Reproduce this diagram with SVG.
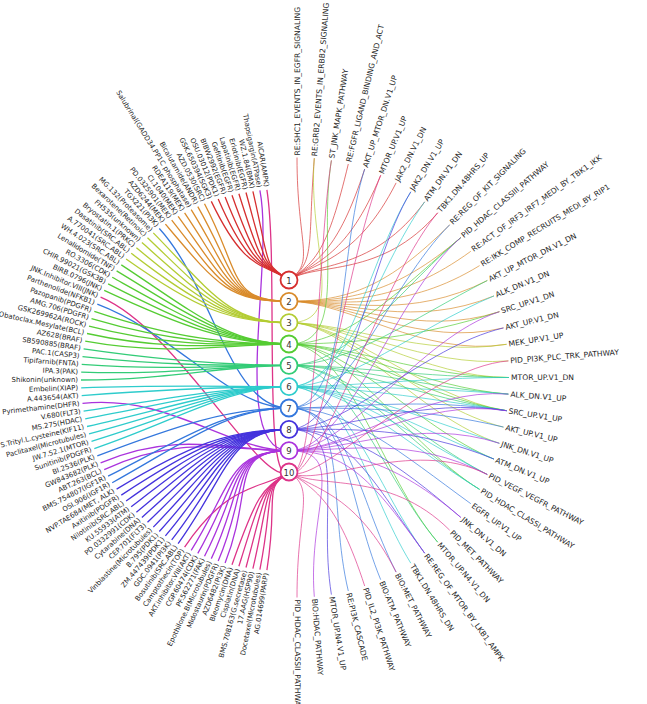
<svg xmlns="http://www.w3.org/2000/svg" width="647" height="704" viewBox="0 0 647 704">
<style>
text{font-family:"DejaVu Sans",sans-serif;font-size:7.6px;fill:#262626;dominant-baseline:central}
text.L{text-anchor:end;font-size:6.95px}
.a{fill:none;stroke-width:1.3}
.b{fill:none;stroke-width:0.8;opacity:0.85}
.s1{stroke:#d62f2f}.s2{stroke:#d98b2b}.s3{stroke:#b3cc33}.s4{stroke:#55cc33}.s5{stroke:#33cc77}
.s6{stroke:#2ecccc}.s7{stroke:#3377dd}.s8{stroke:#4433dd}.s9{stroke:#aa33dd}.s10{stroke:#dd3388}
.n circle{fill:#fff;stroke-width:1.8}
.n text{font-size:8.5px;text-anchor:middle;fill:#333}
</style>
<rect width="647" height="704" fill="#fff"/>
<g id="connectors">
<g id="left-edges">
<path class="a s10" d="M266.9 189.9C278.9 265.9 262 490 289 472"/>
<path class="a s9" d="M259.9 190.4C274.7 266.2 229 450.7 289 450.7"/>
<path class="a s1" d="M252.9 191.4C270.5 266.8 262 262 289 280"/>
<path class="a s1" d="M246 192.5C266.4 267.5 262 262 289 280"/>
<path class="a s1" d="M238.9 193.8C262.1 268.3 262 262 289 280"/>
<path class="a s1" d="M232 195.3C258 269.2 262 262 289 280"/>
<path class="a s1" d="M225.1 197C253.9 270.2 262 262 289 280"/>
<path class="a s1" d="M218.2 199.1C249.7 271.5 262 262 289 280"/>
<path class="a s1" d="M211.3 201.4C245.6 272.8 262 262 289 280"/>
<path class="a s2" d="M204.5 203.8C241.5 274.3 229 301.3 289 301.3"/>
<path class="a s2" d="M197.8 206.6C237.5 276 229 301.3 289 301.3"/>
<path class="a s2" d="M191.2 209.6C233.5 277.8 229 301.3 289 301.3"/>
<path class="a s2" d="M184.6 212.9C229.6 279.7 229 301.3 289 301.3"/>
<path class="a s2" d="M178.1 216.4C225.7 281.8 229 301.3 289 301.3"/>
<path class="a s2" d="M171.7 220.1C221.8 284.1 229 301.3 289 301.3"/>
<path class="a s2" d="M165.4 224.1C218 286.5 229 301.3 289 301.3"/>
<path class="a s7" d="M159.3 228.5C214.4 289.1 229 408 289 408"/>
<path class="a s3" d="M153.3 232.9C210.8 291.7 229 322.7 289 322.7"/>
<path class="a s3" d="M147.5 237.7C207.3 294.6 229 322.7 289 322.7"/>
<path class="a s3" d="M141.9 242.6C203.9 297.6 229 322.7 289 322.7"/>
<path class="a s3" d="M136.4 247.8C200.6 300.7 229 322.7 289 322.7"/>
<path class="a s3" d="M131.2 253.3C197.5 304 229 322.7 289 322.7"/>
<path class="a s3" d="M126.1 259C194.5 307.4 229 322.7 289 322.7"/>
<path class="a s4" d="M121.3 264.9C191.6 310.9 229 344 289 344"/>
<path class="a s4" d="M116.6 270.9C188.8 314.5 229 344 289 344"/>
<path class="a s4" d="M112.2 277.3C186.1 318.4 229 344 289 344"/>
<path class="a s4" d="M108.1 283.8C183.7 322.3 229 344 289 344"/>
<path class="a s4" d="M104.2 290.4C181.3 326.2 229 344 289 344"/>
<path class="a s10" d="M100.6 297.2C179.2 330.3 262 490 289 472"/>
<path class="a s7" d="M97.3 304.2C177.2 334.5 229 408 289 408"/>
<path class="a s4" d="M94.3 311.4C175.4 338.8 229 344 289 344"/>
<path class="a s4" d="M91.5 318.7C173.7 343.2 229 344 289 344"/>
<path class="a s4" d="M89 326.1C172.2 347.7 229 344 289 344"/>
<path class="a s4" d="M87 333.5C171 352.1 229 344 289 344"/>
<path class="a s4" d="M85.2 341.2C169.9 356.7 229 344 289 344"/>
<path class="a s5" d="M83.6 348.9C169 361.3 229 365.3 289 365.3"/>
<path class="a s5" d="M82.5 356.6C168.3 366 229 365.3 289 365.3"/>
<path class="a s5" d="M81.7 364.4C167.8 370.6 229 365.3 289 365.3"/>
<path class="a s5" d="M81.2 372.1C167.5 375.3 229 365.3 289 365.3"/>
<path class="a s5" d="M81 380C167.4 380 229 365.3 289 365.3"/>
<path class="a s6" d="M81.2 387.9C167.5 384.7 229 386.7 289 386.7"/>
<path class="a s6" d="M81.7 395.6C167.8 389.4 229 386.7 289 386.7"/>
<path class="a s9" d="M82.5 403.4C168.3 394 229 450.7 289 450.7"/>
<path class="a s6" d="M83.6 411.1C169 398.7 229 386.7 289 386.7"/>
<path class="a s6" d="M85.2 418.8C169.9 403.3 229 386.7 289 386.7"/>
<path class="a s6" d="M87 426.5C171 407.9 229 386.7 289 386.7"/>
<path class="a s6" d="M89 433.9C172.2 412.3 229 386.7 289 386.7"/>
<path class="a s6" d="M91.5 441.3C173.7 416.8 229 386.7 289 386.7"/>
<path class="a s6" d="M94.3 448.6C175.4 421.2 229 386.7 289 386.7"/>
<path class="a s7" d="M97.3 455.8C177.2 425.5 229 408 289 408"/>
<path class="a s9" d="M100.6 462.8C179.2 429.7 229 450.7 289 450.7"/>
<path class="a s9" d="M104.2 469.6C181.3 433.8 229 450.7 289 450.7"/>
<path class="a s7" d="M108.1 476.2C183.7 437.7 229 408 289 408"/>
<path class="a s7" d="M112.2 482.7C186.1 441.6 229 408 289 408"/>
<path class="a s8" d="M116.6 489.1C188.8 445.5 229 429.3 289 429.3"/>
<path class="a s8" d="M121.3 495.1C191.6 449.1 229 429.3 289 429.3"/>
<path class="a s8" d="M126.1 501C194.5 452.6 229 429.3 289 429.3"/>
<path class="a s8" d="M131.2 506.7C197.5 456 229 429.3 289 429.3"/>
<path class="a s8" d="M136.4 512.2C200.6 459.3 229 429.3 289 429.3"/>
<path class="a s8" d="M141.9 517.4C203.9 462.4 229 429.3 289 429.3"/>
<path class="a s8" d="M147.5 522.3C207.3 465.4 229 429.3 289 429.3"/>
<path class="a s8" d="M153.3 527.1C210.8 468.3 229 429.3 289 429.3"/>
<path class="a s8" d="M159.3 531.5C214.4 470.9 229 429.3 289 429.3"/>
<path class="a s8" d="M165.4 535.9C218 473.5 229 429.3 289 429.3"/>
<path class="a s8" d="M171.7 539.9C221.8 475.9 229 429.3 289 429.3"/>
<path class="a s8" d="M178.1 543.6C225.7 478.2 229 429.3 289 429.3"/>
<path class="a s10" d="M184.6 547.1C229.6 480.3 262 490 289 472"/>
<path class="a s9" d="M191.2 550.4C233.5 482.2 229 450.7 289 450.7"/>
<path class="a s9" d="M197.8 553.4C237.5 484 229 450.7 289 450.7"/>
<path class="a s9" d="M204.5 556.2C241.5 485.7 229 450.7 289 450.7"/>
<path class="a s9" d="M211.3 558.6C245.6 487.2 229 450.7 289 450.7"/>
<path class="a s9" d="M218.2 560.9C249.7 488.5 229 450.7 289 450.7"/>
<path class="a s9" d="M225.1 563C253.9 489.8 229 450.7 289 450.7"/>
<path class="a s10" d="M232 564.7C258 490.8 262 490 289 472"/>
<path class="a s10" d="M238.9 566.2C262.1 491.7 262 490 289 472"/>
<path class="a s10" d="M246 567.5C266.4 492.5 262 490 289 472"/>
<path class="a s10" d="M252.9 568.6C270.5 493.2 262 490 289 472"/>
<path class="a s10" d="M259.9 569.6C274.7 493.8 262 490 289 472"/>
<path class="a s10" d="M266.9 570.1C278.9 494.1 262 490 289 472"/>
</g>
<g id="right-edges">
<path class="b s1" d="M289 280C316 262 297 245.5 297 157.5"/>
<path class="b s1" d="M289 280C316 262 307.4 245.9 314.3 158.2"/>
<path class="b s1" d="M289 280C316 262 327.8 249.4 348.3 164"/>
<path class="b s1" d="M289 280C316 262 337.6 252.4 364.7 169"/>
<path class="b s1" d="M289 280C316 262 347.2 256.2 380.7 175.3"/>
<path class="b s1" d="M289 280C316 262 356.5 260.7 396.1 182.9"/>
<path class="b s1" d="M289 280C316 262 373.6 272.1 424.7 201.8"/>
<path class="b s1" d="M289 280C316 262 381.4 278.7 437.7 212.8"/>
<path class="b s2" d="M289 301.3C349 301.3 388.6 285.9 449.7 224.8"/>
<path class="b s2" d="M289 301.3C349 301.3 395.3 293.6 460.8 237.6"/>
<path class="b s2" d="M289 301.3C349 301.3 401.3 301.8 470.8 251.3"/>
<path class="b s2" d="M289 301.3C349 301.3 406.6 310.4 479.6 265.6"/>
<path class="b s2" d="M289 301.3C349 301.3 411.2 319.3 487.3 280.5"/>
<path class="b s2" d="M289 301.3C349 301.3 415.2 328.5 494 295.9"/>
<path class="b s2" d="M289 301.3C349 301.3 418.4 338 499.4 311.7"/>
<path class="b s2" d="M289 301.3C349 301.3 420.9 347.7 503.5 327.9"/>
<path class="b s2" d="M289 301.3C349 301.3 422.8 357.6 506.6 344.3"/>
<path class="b s3" d="M289 322.7C349 322.7 307.4 245.9 314.3 158.2"/>
<path class="b s3" d="M289 322.7C349 322.7 422.8 357.6 506.6 344.3"/>
<path class="b s3" d="M289 322.7C349 322.7 423.8 367.5 508.4 360.9"/>
<path class="b s3" d="M289 322.7C349 322.7 424.2 377.5 509 377.5"/>
<path class="b s3" d="M289 322.7C349 322.7 422.8 397.4 506.6 410.7"/>
<path class="b s3" d="M289 322.7C349 322.7 420.9 407.3 503.5 427.1"/>
<path class="b s3" d="M289 322.7C349 322.7 418.4 417 499.4 443.3"/>
<path class="b s4" d="M289 344C349 344 317.6 247.2 331.4 160.4"/>
<path class="b s4" d="M289 344C349 344 395.3 293.6 460.8 237.6"/>
<path class="b s4" d="M289 344C349 344 418.4 338 499.4 311.7"/>
<path class="b s4" d="M289 344C349 344 424.2 377.5 509 377.5"/>
<path class="b s4" d="M289 344C349 344 423.8 387.5 508.4 394.1"/>
<path class="b s4" d="M289 344C349 344 422.8 397.4 506.6 410.7"/>
<path class="b s4" d="M289 344C349 344 415.2 426.5 494 459.1"/>
<path class="b s4" d="M289 344C349 344 406.6 444.6 479.6 489.4"/>
<path class="b s4" d="M289 344C349 344 381.4 476.3 437.7 542.2"/>
<path class="b s5" d="M289 365.3C349 365.3 395.3 293.6 460.8 237.6"/>
<path class="b s5" d="M289 365.3C349 365.3 411.2 319.3 487.3 280.5"/>
<path class="b s5" d="M289 365.3C349 365.3 424.2 377.5 509 377.5"/>
<path class="b s5" d="M289 365.3C349 365.3 423.8 387.5 508.4 394.1"/>
<path class="b s5" d="M289 365.3C349 365.3 422.8 397.4 506.6 410.7"/>
<path class="b s5" d="M289 365.3C349 365.3 411.2 435.7 487.3 474.5"/>
<path class="b s5" d="M289 365.3C349 365.3 406.6 444.6 479.6 489.4"/>
<path class="b s5" d="M289 365.3C349 365.3 381.4 476.3 437.7 542.2"/>
<path class="b s6" d="M289 386.7C349 386.7 365.3 266.1 410.8 191.8"/>
<path class="b s6" d="M289 386.7C349 386.7 373.6 272.1 424.7 201.8"/>
<path class="b s6" d="M289 386.7C349 386.7 415.2 328.5 494 295.9"/>
<path class="b s6" d="M289 386.7C349 386.7 424.2 377.5 509 377.5"/>
<path class="b s6" d="M289 386.7C349 386.7 423.8 387.5 508.4 394.1"/>
<path class="b s6" d="M289 386.7C349 386.7 422.8 397.4 506.6 410.7"/>
<path class="b s6" d="M289 386.7C349 386.7 418.4 417 499.4 443.3"/>
<path class="b s6" d="M289 386.7C349 386.7 415.2 426.5 494 459.1"/>
<path class="b s6" d="M289 386.7C349 386.7 411.2 435.7 487.3 474.5"/>
<path class="b s6" d="M289 386.7C349 386.7 406.6 444.6 479.6 489.4"/>
<path class="b s6" d="M289 386.7C349 386.7 373.6 482.9 424.7 553.2"/>
<path class="b s6" d="M289 386.7C349 386.7 365.3 488.9 410.8 563.2"/>
<path class="b s7" d="M289 408C349 408 337.6 252.4 364.7 169"/>
<path class="b s7" d="M289 408C349 408 388.6 285.9 449.7 224.8"/>
<path class="b s7" d="M289 408C349 408 422.8 397.4 506.6 410.7"/>
<path class="b s7" d="M289 408C349 408 420.9 407.3 503.5 427.1"/>
<path class="b s7" d="M289 408C349 408 401.3 453.2 470.8 503.7"/>
<path class="b s7" d="M289 408C349 408 356.5 494.3 396.1 572.1"/>
<path class="b s7" d="M289 408C349 408 347.2 498.8 380.7 579.7"/>
<path class="b s7" d="M289 408C349 408 327.8 505.6 348.3 591"/>
<path class="b s8" d="M289 429.3C349 429.3 365.3 266.1 410.8 191.8"/>
<path class="b s8" d="M289 429.3C349 429.3 420.9 347.7 503.5 327.9"/>
<path class="b s8" d="M289 429.3C349 429.3 422.8 397.4 506.6 410.7"/>
<path class="b s8" d="M289 429.3C349 429.3 415.2 426.5 494 459.1"/>
<path class="b s8" d="M289 429.3C349 429.3 395.3 461.4 460.8 517.4"/>
<path class="b s8" d="M289 429.3C349 429.3 373.6 482.9 424.7 553.2"/>
<path class="b s8" d="M289 429.3C349 429.3 317.6 507.8 331.4 594.6"/>
<path class="b s9" d="M289 450.7C349 450.7 395.3 293.6 460.8 237.6"/>
<path class="b s9" d="M289 450.7C349 450.7 418.4 338 499.4 311.7"/>
<path class="b s9" d="M289 450.7C349 450.7 423.8 387.5 508.4 394.1"/>
<path class="b s9" d="M289 450.7C349 450.7 422.8 397.4 506.6 410.7"/>
<path class="b s9" d="M289 450.7C349 450.7 418.4 417 499.4 443.3"/>
<path class="b s9" d="M289 450.7C349 450.7 411.2 435.7 487.3 474.5"/>
<path class="b s9" d="M289 450.7C349 450.7 395.3 461.4 460.8 517.4"/>
<path class="b s9" d="M289 450.7C349 450.7 373.6 482.9 424.7 553.2"/>
<path class="b s9" d="M289 450.7C349 450.7 307.4 509.1 314.3 596.8"/>
<path class="b s10" d="M289 472C316 490 317.6 247.2 331.4 160.4"/>
<path class="b s10" d="M289 472C316 490 347.2 256.2 380.7 175.3"/>
<path class="b s10" d="M289 472C316 490 381.4 278.7 437.7 212.8"/>
<path class="b s10" d="M289 472C316 490 423.8 367.5 508.4 360.9"/>
<path class="b s10" d="M289 472C316 490 411.2 435.7 487.3 474.5"/>
<path class="b s10" d="M289 472C316 490 388.6 469.1 449.7 530.2"/>
<path class="b s10" d="M289 472C316 490 356.5 494.3 396.1 572.1"/>
<path class="b s10" d="M289 472C316 490 337.6 502.6 364.7 586"/>
<path class="b s10" d="M289 472C316 490 297 509.5 297 597.5"/>
</g>
</g>
<g id="drugs">
<g id="d0"><text class="L" transform="rotate(81 297 380)" x="101.5" y="380">AICAR(AMPK)</text></g>
<g id="d1"><text class="L" transform="rotate(78.92 297 380)" x="100.9" y="380">Thapsigargin(ATPase)</text></g>
<g id="d2"><text class="L" transform="rotate(76.85 297 380)" x="100.3" y="380">WZ.1.84(BMX)</text></g>
<g id="d3"><text class="L" transform="rotate(74.77 297 380)" x="99.6" y="380">Erlotinib(EGFR)</text></g>
<g id="d4"><text class="L" transform="rotate(72.69 297 380)" x="98.9" y="380">Lapatinib(EGFR)</text></g>
<g id="d5"><text class="L" transform="rotate(70.62 297 380)" x="98.2" y="380">Gefitinib(EGFR)</text></g>
<g id="d6"><text class="L" transform="rotate(68.54 297 380)" x="97.5" y="380">BIBW2992(EGFR)</text></g>
<g id="d7"><text class="L" transform="rotate(66.46 297 380)" x="96.7" y="380">OSU.03012(PDK1)</text></g>
<g id="d8"><text class="L" transform="rotate(64.38 297 380)" x="95.9" y="380">GSK.650394(SGK3)</text></g>
<g id="d9"><text class="L" transform="rotate(62.31 297 380)" x="95.1" y="380">AZD.0530(SRC)</text></g>
<g id="d10"><text class="L" transform="rotate(60.23 297 380)" x="94.3" y="380">Bicalutamide(ANDR)</text></g>
<g id="d11"><text class="L" transform="rotate(58.15 297 380)" x="93.4" y="380">Salubrinal(GADD34.PP1C phosphatase)</text></g>
<g id="d12"><text class="L" transform="rotate(56.08 297 380)" x="92.6" y="380">RDEA119(MEK)</text></g>
<g id="d13"><text class="L" transform="rotate(54 297 380)" x="91.7" y="380">CI.1040(MEK)</text></g>
<g id="d14"><text class="L" transform="rotate(51.92 297 380)" x="90.9" y="380">PD.0325901(MEK)</text></g>
<g id="d15"><text class="L" transform="rotate(49.85 297 380)" x="90" y="380">AZD6244(MEK)</text></g>
<g id="d16"><text class="L" transform="rotate(47.77 297 380)" x="89.2" y="380">TGX221(PI3K)</text></g>
<g id="d17"><text class="L" transform="rotate(45.69 297 380)" x="88.4" y="380">MG.132(Proteasome)</text></g>
<g id="d18"><text class="L" transform="rotate(43.62 297 380)" x="87.6" y="380">Bexarotene(Retinoic)</text></g>
<g id="d19"><text class="L" transform="rotate(41.54 297 380)" x="86.8" y="380">FH535(unknown)</text></g>
<g id="d20"><text class="L" transform="rotate(39.46 297 380)" x="86" y="380">Bryostatin.1(PRKC)</text></g>
<g id="d21"><text class="L" transform="rotate(37.38 297 380)" x="85.3" y="380">Dasatinib(SRC.ABL)</text></g>
<g id="d22"><text class="L" transform="rotate(35.31 297 380)" x="84.6" y="380">A.770041(SRC.ABL)</text></g>
<g id="d23"><text class="L" transform="rotate(33.23 297 380)" x="83.9" y="380">WH.4.023(SRC.ABL)</text></g>
<g id="d24"><text class="L" transform="rotate(31.15 297 380)" x="83.2" y="380">Lenalidomide(TNF)</text></g>
<g id="d25"><text class="L" transform="rotate(29.08 297 380)" x="82.6" y="380">RO.3306(CDK)</text></g>
<g id="d26"><text class="L" transform="rotate(27 297 380)" x="82" y="380">CHIR.99021(GSK3B)</text></g>
<g id="d27"><text class="L" transform="rotate(24.92 297 380)" x="81.4" y="380">BIRB.0796(JNK)</text></g>
<g id="d28"><text class="L" transform="rotate(22.85 297 380)" x="80.9" y="380">JNK.Inhibitor.VIII(JNK)</text></g>
<g id="d29"><text class="L" transform="rotate(20.77 297 380)" x="80.4" y="380">Parthenolide(NFKB1)</text></g>
<g id="d30"><text class="L" transform="rotate(18.69 297 380)" x="80" y="380">Pazopanib(PDGFR)</text></g>
<g id="d31"><text class="L" transform="rotate(16.62 297 380)" x="79.5" y="380">AMG.706(PDGFR)</text></g>
<g id="d32"><text class="L" transform="rotate(14.54 297 380)" x="79.2" y="380">GSK269962A(ROCK)</text></g>
<g id="d33"><text class="L" transform="rotate(12.46 297 380)" x="78.9" y="380">Obatoclax.Mesylate(BCL)</text></g>
<g id="d34"><text class="L" transform="rotate(10.38 297 380)" x="78.6" y="380">AZ628(BRAF)</text></g>
<g id="d35"><text class="L" transform="rotate(8.31 297 380)" x="78.4" y="380">SB590885(BRAF)</text></g>
<g id="d36"><text class="L" transform="rotate(6.23 297 380)" x="78.2" y="380">PAC.1(CASP3)</text></g>
<g id="d37"><text class="L" transform="rotate(4.15 297 380)" x="78.1" y="380">Tipifarnib(FNTA)</text></g>
<g id="d38"><text class="L" transform="rotate(2.08 297 380)" x="78" y="380">IPA.3(PAK)</text></g>
<g id="d39"><text class="L" x="78" y="380">Shikonin(unknown)</text></g>
<g id="d40"><text class="L" transform="rotate(-2.08 297 380)" x="78" y="380">Embelin(XIAP)</text></g>
<g id="d41"><text class="L" transform="rotate(-4.15 297 380)" x="78.1" y="380">A.443654(AKT)</text></g>
<g id="d42"><text class="L" transform="rotate(-6.23 297 380)" x="78.2" y="380">Pyrimethamine(DHFR)</text></g>
<g id="d43"><text class="L" transform="rotate(-8.31 297 380)" x="78.4" y="380">V.680(FLT3)</text></g>
<g id="d44"><text class="L" transform="rotate(-10.38 297 380)" x="78.6" y="380">MS.275(HDAC)</text></g>
<g id="d45"><text class="L" transform="rotate(-12.46 297 380)" x="78.9" y="380">S.Trityl.L.cysteine(KIF11)</text></g>
<g id="d46"><text class="L" transform="rotate(-14.54 297 380)" x="79.2" y="380">Paclitaxel(Microtubules)</text></g>
<g id="d47"><text class="L" transform="rotate(-16.62 297 380)" x="79.5" y="380">JW.7.52.1(MTOR)</text></g>
<g id="d48"><text class="L" transform="rotate(-18.69 297 380)" x="80" y="380">Sunitinib(PDGFR)</text></g>
<g id="d49"><text class="L" transform="rotate(-20.77 297 380)" x="80.4" y="380">BI.2536(PLK)</text></g>
<g id="d50"><text class="L" transform="rotate(-22.85 297 380)" x="80.9" y="380">GW843682(PLK)</text></g>
<g id="d51"><text class="L" transform="rotate(-24.92 297 380)" x="81.4" y="380">ABT.263(BCL)</text></g>
<g id="d52"><text class="L" transform="rotate(-27 297 380)" x="82" y="380">BMS.754807(IGF1R)</text></g>
<g id="d53"><text class="L" transform="rotate(-29.08 297 380)" x="82.6" y="380">OSI.906(IGF1R)</text></g>
<g id="d54"><text class="L" transform="rotate(-31.15 297 380)" x="83.2" y="380">NVP.TAE684(MET, ALK)</text></g>
<g id="d55"><text class="L" transform="rotate(-33.23 297 380)" x="83.9" y="380">Axitinib(PDGFR)</text></g>
<g id="d56"><text class="L" transform="rotate(-35.31 297 380)" x="84.6" y="380">Nilotinib(SRC.ABL)</text></g>
<g id="d57"><text class="L" transform="rotate(-37.38 297 380)" x="85.3" y="380">KU.55933(ATM)</text></g>
<g id="d58"><text class="L" transform="rotate(-39.46 297 380)" x="86" y="380">PD.0332991(CDK)</text></g>
<g id="d59"><text class="L" transform="rotate(-41.54 297 380)" x="86.8" y="380">Cytarabine(DNA)</text></g>
<g id="d60"><text class="L" transform="rotate(-43.62 297 380)" x="87.6" y="380">CEP.701(FLT3)</text></g>
<g id="d61"><text class="L" transform="rotate(-45.69 297 380)" x="88.4" y="380">Vinblastine(Microtubules)</text></g>
<g id="d62"><text class="L" transform="rotate(-47.77 297 380)" x="89.2" y="380">B.795(PDK1)</text></g>
<g id="d63"><text class="L" transform="rotate(-49.85 297 380)" x="90" y="380">ZM.447439(PDK1)</text></g>
<g id="d64"><text class="L" transform="rotate(-51.92 297 380)" x="90.9" y="380">GDC.0941(PI3K)</text></g>
<g id="d65"><text class="L" transform="rotate(-54 297 380)" x="91.7" y="380">Bosutinib(SRC.ABL)</text></g>
<g id="d66"><text class="L" transform="rotate(-56.08 297 380)" x="92.6" y="380">Camptothecin(TOP)</text></g>
<g id="d67"><text class="L" transform="rotate(-58.15 297 380)" x="93.4" y="380">AKT.inhibitor.VIII(AKT)</text></g>
<g id="d68"><text class="L" transform="rotate(-60.23 297 380)" x="94.3" y="380">CGP.60474(CDK)</text></g>
<g id="d69"><text class="L" transform="rotate(-62.31 297 380)" x="95.1" y="380">PF.562271(FAK)</text></g>
<g id="d70"><text class="L" transform="rotate(-64.38 297 380)" x="95.9" y="380">Epothilone.B(Microtubules)</text></g>
<g id="d71"><text class="L" transform="rotate(-66.46 297 380)" x="96.7" y="380">Midostaurin(PDGFR)</text></g>
<g id="d72"><text class="L" transform="rotate(-68.54 297 380)" x="97.5" y="380">AZD6482(PI3K)</text></g>
<g id="d73"><text class="L" transform="rotate(-70.62 297 380)" x="98.2" y="380">Bleomycin(DNA)</text></g>
<g id="d74"><text class="L" transform="rotate(-72.69 297 380)" x="98.9" y="380">Cisplatin(DNA)</text></g>
<g id="d75"><text class="L" transform="rotate(-74.77 297 380)" x="99.6" y="380">BMS.708163(G.secretase)</text></g>
<g id="d76"><text class="L" transform="rotate(-76.85 297 380)" x="100.3" y="380">17.AAG(HSP90)</text></g>
<g id="d77"><text class="L" transform="rotate(-78.92 297 380)" x="100.9" y="380">Docetaxel(Microtubules)</text></g>
<g id="d78"><text class="L" transform="rotate(-81 297 380)" x="101.5" y="380">AG.014699(PARP)</text></g>
</g>
<g id="pathways">
<g id="p0"><text transform="rotate(-90 297 377.5)" x="519" y="377.5">RE:SHC1_EVENTS_IN_EGFR_SIGNALING</text></g>
<g id="p1"><text transform="rotate(-85.5 297 377.5)" x="518.9" y="377.5">RE:GRB2_EVENTS_IN_ERBB2_SIGNALING</text></g>
<g id="p2"><text transform="rotate(-81 297 377.5)" x="518.8" y="377.5">ST_JNK_MAPK_PATHWAY</text></g>
<g id="p3"><text transform="rotate(-76.5 297 377.5)" x="518.6" y="377.5">RE:FGFR_LIGAND_BINDING_AND_ACT</text></g>
<g id="p4"><text transform="rotate(-72 297 377.5)" x="518.2" y="377.5">AKT_UP_MTOR_DN.V1_UP</text></g>
<g id="p5"><text transform="rotate(-67.5 297 377.5)" x="517.8" y="377.5">MTOR_UP.V1_UP</text></g>
<g id="p6"><text transform="rotate(-63 297 377.5)" x="517.4" y="377.5">JAK2_DN.V1_DN</text></g>
<g id="p7"><text transform="rotate(-58.5 297 377.5)" x="516.8" y="377.5">JAK2_DN.V1_UP</text></g>
<g id="p8"><text transform="rotate(-54 297 377.5)" x="516.2" y="377.5">ATM_DN.V1_DN</text></g>
<g id="p9"><text transform="rotate(-49.5 297 377.5)" x="515.6" y="377.5">TBK1.DN.48HRS_UP</text></g>
<g id="p10"><text transform="rotate(-45 297 377.5)" x="515" y="377.5">RE:REG_OF_KIT_SIGNALING</text></g>
<g id="p11"><text transform="rotate(-40.5 297 377.5)" x="514.4" y="377.5">PID_HDAC_CLASSIII_PATHWAY</text></g>
<g id="p12"><text transform="rotate(-36 297 377.5)" x="513.8" y="377.5">RE:ACT_OF_IRF3_IRF7_MEDI_BY_TBK1_IKK</text></g>
<g id="p13"><text transform="rotate(-31.5 297 377.5)" x="513.2" y="377.5">RE:IKK_COMP_RECRUITS_MEDI_BY_RIP1</text></g>
<g id="p14"><text transform="rotate(-27 297 377.5)" x="512.6" y="377.5">AKT_UP_MTOR_DN.V1_DN</text></g>
<g id="p15"><text transform="rotate(-22.5 297 377.5)" x="512.2" y="377.5">ALK_DN.V1_DN</text></g>
<g id="p16"><text transform="rotate(-18 297 377.5)" x="511.8" y="377.5">SRC_UP.V1_DN</text></g>
<g id="p17"><text transform="rotate(-13.5 297 377.5)" x="511.4" y="377.5">AKT_UP.V1_DN</text></g>
<g id="p18"><text transform="rotate(-9 297 377.5)" x="511.2" y="377.5">MEK_UP.V1_UP</text></g>
<g id="p19"><text transform="rotate(-4.5 297 377.5)" x="511" y="377.5">PID_PI3K_PLC_TRK_PATHWAY</text></g>
<g id="p20"><text x="511" y="377.5">MTOR_UP.V1_DN</text></g>
<g id="p21"><text transform="rotate(4.5 297 377.5)" x="511" y="377.5">ALK_DN.V1_UP</text></g>
<g id="p22"><text transform="rotate(9 297 377.5)" x="511.2" y="377.5">SRC_UP.V1_UP</text></g>
<g id="p23"><text transform="rotate(13.5 297 377.5)" x="511.4" y="377.5">AKT_UP.V1_UP</text></g>
<g id="p24"><text transform="rotate(18 297 377.5)" x="511.8" y="377.5">JNK_DN.V1_UP</text></g>
<g id="p25"><text transform="rotate(22.5 297 377.5)" x="512.2" y="377.5">ATM_DN.V1_UP</text></g>
<g id="p26"><text transform="rotate(27 297 377.5)" x="512.6" y="377.5">PID_VEGF_VEGFR_PATHWAY</text></g>
<g id="p27"><text transform="rotate(31.5 297 377.5)" x="513.2" y="377.5">PID_HDAC_CLASSI_PATHWAY</text></g>
<g id="p28"><text transform="rotate(36 297 377.5)" x="513.8" y="377.5">EGFR_UP.V1_UP</text></g>
<g id="p29"><text transform="rotate(40.5 297 377.5)" x="514.4" y="377.5">JNK_DN.V1_DN</text></g>
<g id="p30"><text transform="rotate(45 297 377.5)" x="515" y="377.5">PID_MET_PATHWAY</text></g>
<g id="p31"><text transform="rotate(49.5 297 377.5)" x="515.6" y="377.5">MTOR_UP.N4.V1_DN</text></g>
<g id="p32"><text transform="rotate(54 297 377.5)" x="516.2" y="377.5">RE:REG_OF_MTOR_BY_LKB1_AMPK</text></g>
<g id="p33"><text transform="rotate(58.5 297 377.5)" x="516.8" y="377.5">TBK1.DN.48HRS_DN</text></g>
<g id="p34"><text transform="rotate(63 297 377.5)" x="517.4" y="377.5">BIO:MET_PATHWAY</text></g>
<g id="p35"><text transform="rotate(67.5 297 377.5)" x="517.8" y="377.5">BIO:ATM_PATHWAY</text></g>
<g id="p36"><text transform="rotate(72 297 377.5)" x="518.2" y="377.5">PID_IL2_PI3K_PATHWAY</text></g>
<g id="p37"><text transform="rotate(76.5 297 377.5)" x="518.6" y="377.5">RE:PI3K_CASCADE</text></g>
<g id="p38"><text transform="rotate(81 297 377.5)" x="518.8" y="377.5">MTOR_UP.N4.V1_UP</text></g>
<g id="p39"><text transform="rotate(85.5 297 377.5)" x="518.9" y="377.5">BIO:HDAC_PATHWAY</text></g>
<g id="p40"><text transform="rotate(90 297 377.5)" x="519" y="377.5">PID_HDAC_CLASSII_PATHWAY</text></g>
</g>
<g id="clusters">
<g id="node1" class="n"><circle class="s1" cx="289" cy="280" r="8.5"/><text x="289" y="280.5">1</text></g>
<g id="node2" class="n"><circle class="s2" cx="289" cy="301.3" r="8.5"/><text x="289" y="301.8">2</text></g>
<g id="node3" class="n"><circle class="s3" cx="289" cy="322.7" r="8.5"/><text x="289" y="323.2">3</text></g>
<g id="node4" class="n"><circle class="s4" cx="289" cy="344" r="8.5"/><text x="289" y="344.5">4</text></g>
<g id="node5" class="n"><circle class="s5" cx="289" cy="365.3" r="8.5"/><text x="289" y="365.8">5</text></g>
<g id="node6" class="n"><circle class="s6" cx="289" cy="386.7" r="8.5"/><text x="289" y="387.2">6</text></g>
<g id="node7" class="n"><circle class="s7" cx="289" cy="408" r="8.5"/><text x="289" y="408.5">7</text></g>
<g id="node8" class="n"><circle class="s8" cx="289" cy="429.3" r="8.5"/><text x="289" y="429.8">8</text></g>
<g id="node9" class="n"><circle class="s9" cx="289" cy="450.7" r="8.5"/><text x="289" y="451.2">9</text></g>
<g id="node10" class="n"><circle class="s10" cx="289" cy="472" r="8.5"/><text x="289" y="472.5">10</text></g>
</g>
</svg>
